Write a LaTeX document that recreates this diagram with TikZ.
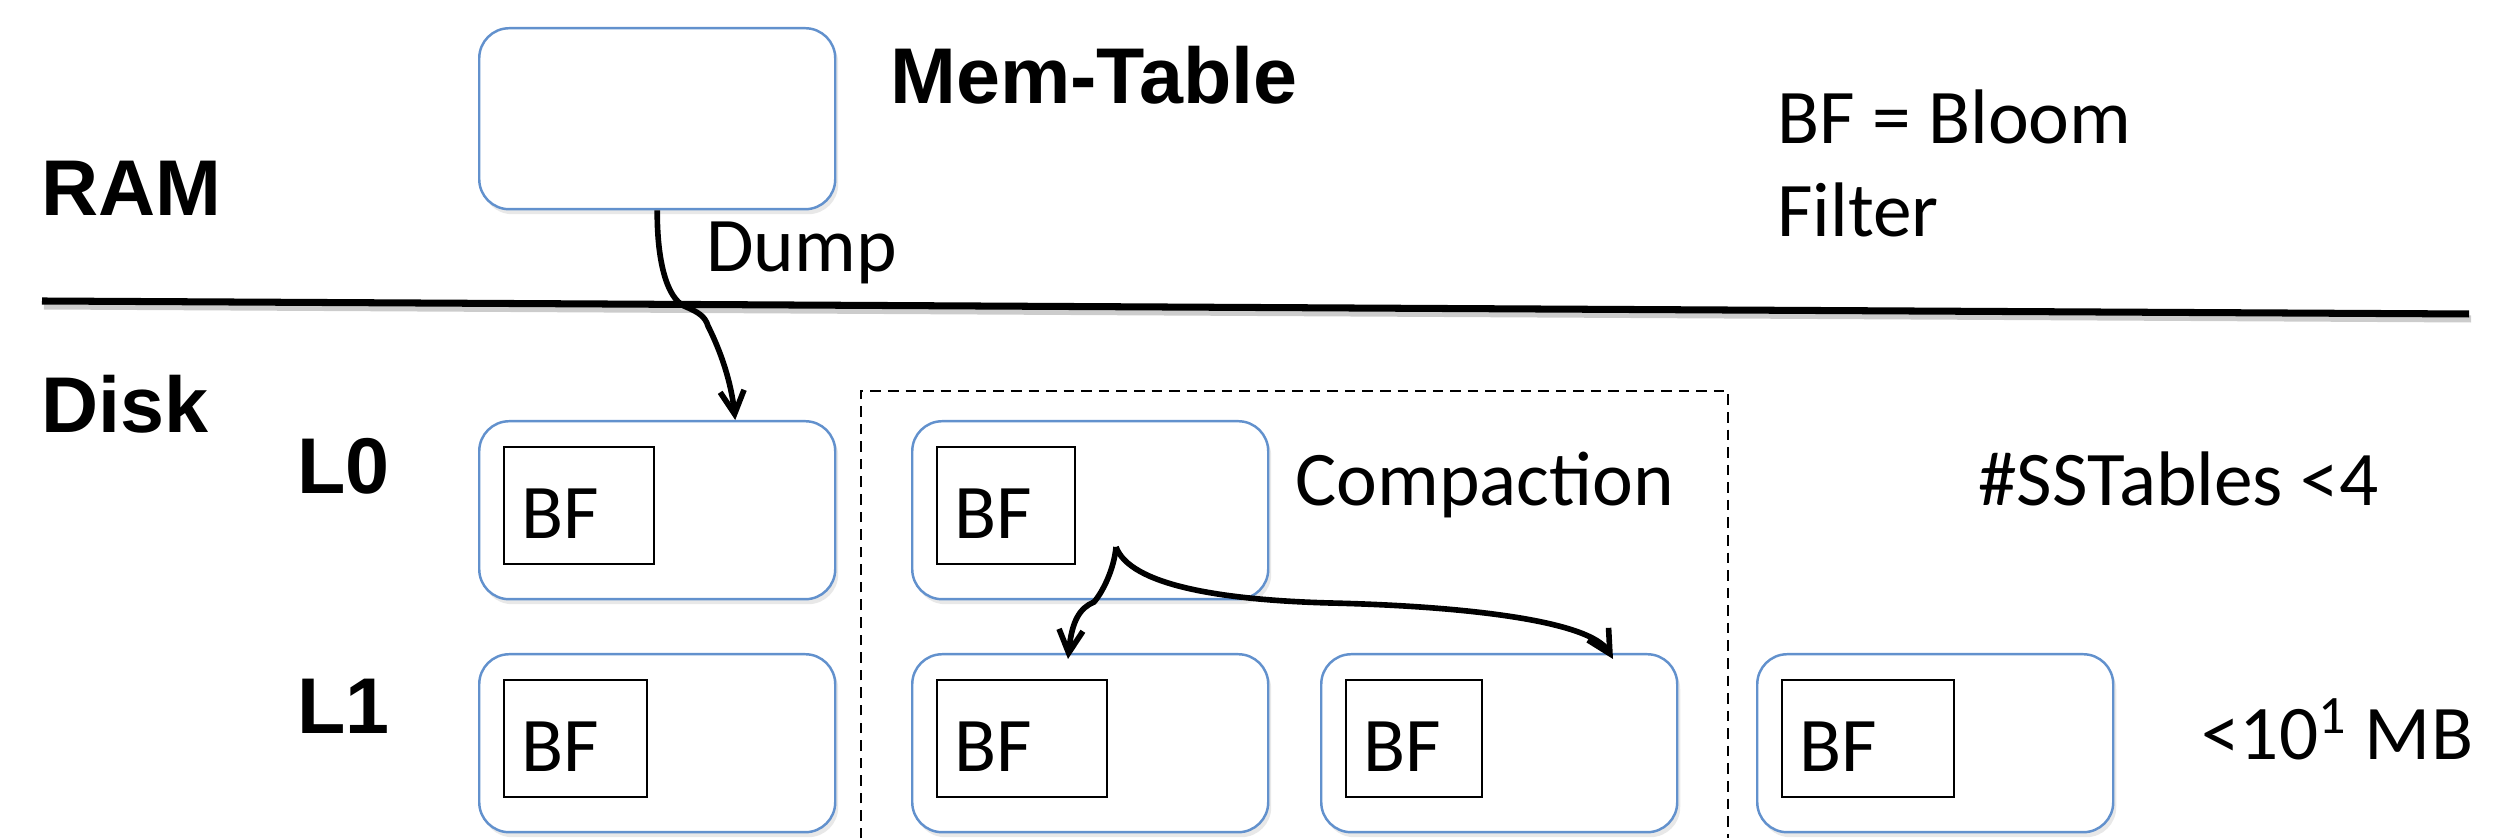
\documentclass[tikz,border=0pt]{standalone}
\usepackage{fontspec}
\setmainfont{Carlito}
\newfontfamily\headfont{Liberation Sans}
\usetikzlibrary{arrows.meta,shadows}
\definecolor{boxblue}{RGB}{98,145,205}

\begin{document}
\begin{tikzpicture}[thick,
  sst/.style={draw=boxblue, line width=0.7pt, rounded corners=0.3cm, fill=white,
    minimum width=3.56cm, minimum height=1.78cm, anchor=north west, inner sep=0pt,
    drop shadow={shadow xshift=0.03cm, shadow yshift=-0.05cm, opacity=0.18}},
  bf/.style={draw, line width=0.6pt, minimum height=1.17cm, anchor=north west, inner sep=0pt},
  lbl/.style={font=\fontsize{22}{26}\selectfont, inner sep=0pt, anchor=base west},
  head/.style={font=\headfont\bfseries\fontsize{22.5}{27}\selectfont, inner sep=0pt, anchor=base west},
  flow/.style={line width=1.6pt, -{Straight Barb[length=2.3mm,width=2.4mm]}}]
  \useasboundingbox (0,0) rectangle (25.14,-8.385);

  % RAM / Disk
  \node[head] (ram)  at (0.40,-2.16) {RAM};
  \node[head] (disk) at (0.40,-4.33) {Disk};
  \node[head] (lz)   at (2.96,-4.94) {L0};
  \node[head] (lo)   at (2.96,-7.34) {L1};
  \draw[line width=2pt, black!20] (0.44,-3.06) -- (24.71,-3.19);
  \draw[line width=2pt] (0.42,-3.01) -- (24.69,-3.14);

  % Mem-Table
  \node[sst, minimum height=1.81cm] (mem) at (4.78,-0.27) {};
  \node[head] (memlbl) at (8.89,-1.04) {Mem-Table};
  \node[lbl] (dump) at (7.05,-2.72) {Dump};
  \node[lbl] (key1) at (17.76,-1.44) {BF = Bloom};
  \node[lbl] (key2) at (17.76,-2.37) {Filter};

  % SSTables
  \node[sst] (l0a) at (4.78,-4.20) {};
  \node[sst] (l0b) at (9.11,-4.20) {};
  \node[sst] (l1a) at (4.78,-6.53) {};
  \node[sst] (l1b) at (9.11,-6.53) {};
  \node[sst] (l1c) at (13.20,-6.53) {};
  \node[sst] (l1d) at (17.56,-6.53) {};
  \foreach \b/\w in {l0a/1.50, l0b/1.38, l1a/1.43, l1b/1.70, l1c/1.36, l1d/1.72} {
    \node[bf, minimum width=\w cm] (\b-bf) at ([shift={(0.25,-0.26)}]\b.north west) {};
    \node[lbl] at ([shift={(0.17,0.27)}]\b-bf.south west) {BF};
  }

  % compaction frame
  \draw[line width=0.8pt, dash pattern=on 3pt off 2pt] (8.61,-8.385) |- (17.28,-3.91) -- (17.28,-8.385);
  \node[lbl] (comp) at (12.94,-5.06) {Compaction};
  \node[lbl] (cnt)  at (19.77,-5.06) {\#SSTables <4};
  \node[lbl] (size) at (22.00,-7.60) {<10\textsuperscript{1} MB};

  % arrows
  \coordinate (dtip)   at ([xshift=0.78cm]l0a.north);
  \coordinate (cstart) at ([shift={(2.05,-1.27)}]l0b.north west);
  \coordinate (ltip)   at ([shift={(1.57,-0.06)}]l1b.north west);
  \coordinate (rtip)   at ([shift={(2.93,-0.06)}]l1c.north west);
  \draw[flow] (mem.south) .. controls (6.57,-2.65) and (6.68,-2.98) .. (6.84,-3.06)
    .. controls (6.98,-3.12) and (7.05,-3.16) .. (7.08,-3.26)
    .. controls (7.25,-3.6) and (7.32,-3.9) .. (dtip);
  \draw[flow] (cstart) .. controls (11.14,-5.7) and (11.02,-5.93) .. (10.94,-6.02)
    .. controls (10.80,-6.08) and (10.72,-6.2) .. (ltip);
  \draw[flow] (cstart) .. controls (11.3,-5.85) and (12.2,-6.0) .. (13.3,-6.03)
    .. controls (14.6,-6.06) and (15.9,-6.2) .. (rtip);
\end{tikzpicture}
\end{document}
